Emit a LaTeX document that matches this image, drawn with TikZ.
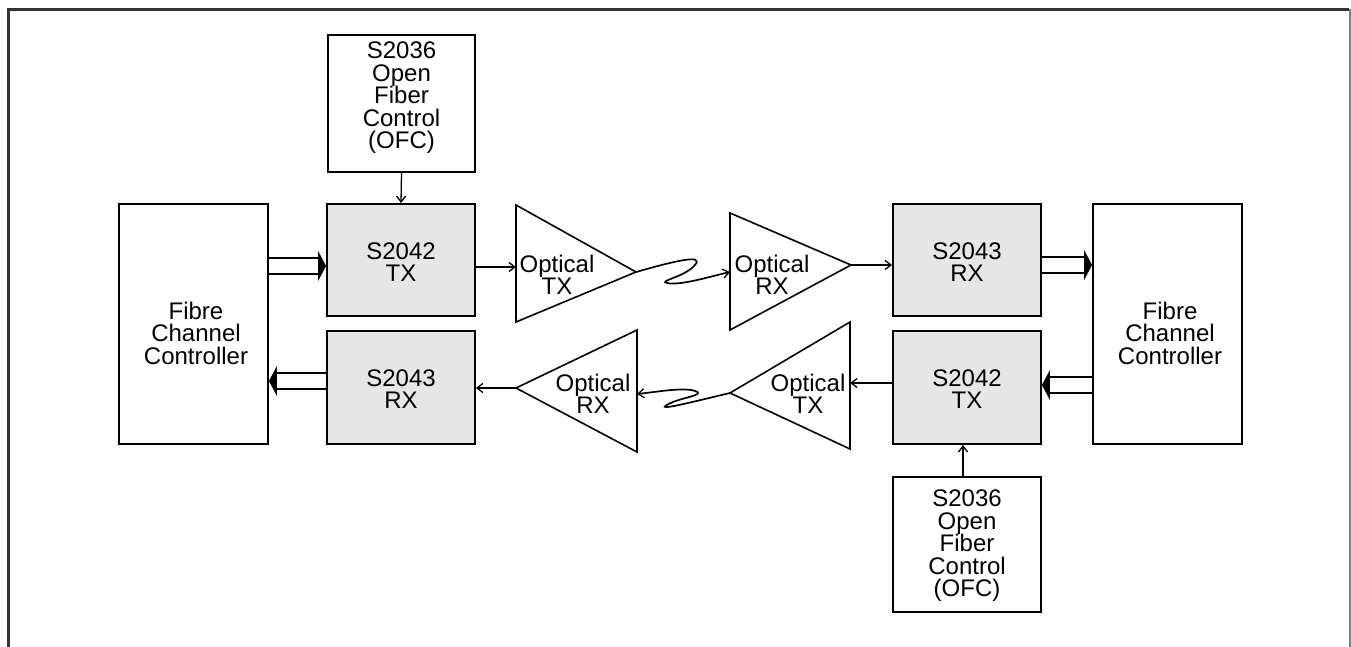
\documentclass[tikz,border=0pt]{standalone}
\usepackage{fontspec}
\setmainfont{Liberation Sans}
\usetikzlibrary{arrows.meta,calc}
\definecolor{chipgray}{HTML}{E6E6E6}
\definecolor{framec}{HTML}{333333}
\begin{document}
\begin{tikzpicture}[x=1pt,y=-1pt,
  lbl/.style={font=\fontsize{24}{22.5}\selectfont, align=center, inner sep=0pt},
  box/.style={draw, line width=1.8pt, inner sep=0pt},
  chip/.style={box, fill=chipgray},
  conn/.style={line width=1.3pt, -{Straight Barb[length=6pt,width=9pt,line width=1.3pt]}},
  fibre/.style={line width=1.7pt, -{Straight Barb[length=6pt,width=9pt,line width=1.3pt]}},
  tri/.style={line width=1.6pt, line join=miter},
  dl/.style={line width=1.8pt},
  dh/.style={fill=black}]
\useasboundingbox (0,0) rectangle (1351,647);
% frame
\draw[framec, line width=3pt] (8,647) -- (8,10) -- (1349,10);
\draw[gray, line width=1.5pt] (1350,9) -- (1350,647);
% boxes
\node[box, minimum width=147pt, minimum height=137pt] (ofc1) at (401.5,103.5) {};
\node[lbl] (ofc1t) at (401.5,98) {S2036\\Open\\Fiber\\Control\\(OFC)};
\node[box, minimum width=149pt, minimum height=240pt] (fcc1) at (193.5,324) {};
\node[lbl] (fcc1t) at (196,333) {Fibre\\Channel\\Controller};
\node[chip, minimum width=148pt, minimum height=112pt] (tx1) at (401,260) {};
\node[lbl] (tx1t) at (401,262) {S2042\\TX};
\node[chip, minimum width=148pt, minimum height=113pt] (rx1) at (401,387.5) {};
\node[lbl] (rx1t) at (401,389) {S2043\\RX};
\node[chip, minimum width=148pt, minimum height=112pt] (rx2) at (967,260) {};
\node[lbl] (rx2t) at (967,262) {S2043\\RX};
\node[chip, minimum width=148pt, minimum height=113pt] (tx2) at (967,387.5) {};
\node[lbl] (tx2t) at (967,389) {S2042\\TX};
\node[box, minimum width=149pt, minimum height=240pt] (fcc2) at (1167.5,324) {};
\node[lbl] (fcc2t) at (1170,333) {Fibre\\Channel\\Controller};
\node[box, minimum width=148pt, minimum height=135pt] (ofc2) at (967,544.5) {};
\node[lbl] (ofc2t) at (967,546) {S2036\\Open\\Fiber\\Control\\(OFC)};
% triangles
\coordinate (t1a) at (516,205); \coordinate (t1b) at (516,322); \coordinate (t1o) at (636,272);
\coordinate (t1in) at (516,267);
\draw[tri] (t1a) -- (t1o) -- (t1b) -- cycle;
\node[lbl] (t1l) at (557,275) {Optical\\TX};
\coordinate (t2a) at (730,213); \coordinate (t2b) at (730,330); \coordinate (t2o) at (851,265);
\coordinate (t2in) at (730,272);
\draw[tri] (t2a) -- (t2o) -- (t2b) -- cycle;
\node[lbl] (t2l) at (772,275) {Optical\\RX};
\coordinate (t3a) at (850,322); \coordinate (t3b) at (850,449); \coordinate (t3o) at (730,393);
\coordinate (t3in) at (850,383);
\draw[tri] (t3a) -- (t3o) -- (t3b) -- cycle;
\node[lbl] (t3l) at (808,394) {Optical\\TX};
\coordinate (t4a) at (637,330); \coordinate (t4b) at (637,452); \coordinate (t4o) at (516,388);
\coordinate (t4in) at (637,394);
\draw[tri] (t4a) -- (t4o) -- (t4b) -- cycle;
\node[lbl] (t4l) at (593,394) {Optical\\RX};
% single connectors
\draw[conn] (ofc1.south) -- (tx1.north);
\draw[conn] (ofc2.north -| 963,0) -- (tx2.south -| 963,0);
\draw[conn] (tx1.east |- t1in) -- (t1in);
\draw[conn] (t2o) -- (rx2.west |- t2o);
\draw[conn] (tx2.west |- t3in) -- (t3in);
\draw[conn] (t4o) -- (rx1.east |- t4o);
% fibres
\draw[fibre] (t1o) .. controls (668,263) and (708,252) .. (694,266)
  .. controls (684,277) and (658,281) .. (667,283)
  .. controls (680,286) and (712,276) .. (t2in);
\draw[fibre] (t3o) .. controls (700,400) and (654,412) .. (667,405)
  .. controls (677,398) and (708,395) .. (695,391)
  .. controls (684,387) and (656,392) .. (t4in);
% double arrows
\coordinate (d1a) at (fcc1.east |- 0,266); \coordinate (d1b) at (tx1.west |- 0,266);
\draw[dl] ([yshift=8pt]d1a) -- ([shift={(-8pt,8pt)}]d1b);
\draw[dl] ([yshift=-8pt]d1a) -- ([shift={(-8pt,-8pt)}]d1b);
\fill[dh] ([shift={(-8pt,15pt)}]d1b) -- (d1b) -- ([shift={(-8pt,-15pt)}]d1b) -- cycle;
\coordinate (d2a) at (rx1.west |- 0,381); \coordinate (d2b) at (fcc1.east |- 0,381);
\draw[dl] ([yshift=8pt]d2a) -- ([shift={(8pt,8pt)}]d2b);
\draw[dl] ([yshift=-8pt]d2a) -- ([shift={(8pt,-8pt)}]d2b);
\fill[dh] ([shift={(8pt,15pt)}]d2b) -- (d2b) -- ([shift={(8pt,-15pt)}]d2b) -- cycle;
\coordinate (d3a) at (rx2.east |- 0,265); \coordinate (d3b) at (fcc2.west |- 0,265);
\draw[dl] ([yshift=8pt]d3a) -- ([shift={(-8pt,8pt)}]d3b);
\draw[dl] ([yshift=-8pt]d3a) -- ([shift={(-8pt,-8pt)}]d3b);
\fill[dh] ([shift={(-8pt,15pt)}]d3b) -- (d3b) -- ([shift={(-8pt,-15pt)}]d3b) -- cycle;
\coordinate (d4a) at (fcc2.west |- 0,385); \coordinate (d4b) at (tx2.east |- 0,385);
\draw[dl] ([yshift=8pt]d4a) -- ([shift={(8pt,8pt)}]d4b);
\draw[dl] ([yshift=-8pt]d4a) -- ([shift={(8pt,-8pt)}]d4b);
\fill[dh] ([shift={(8pt,15pt)}]d4b) -- (d4b) -- ([shift={(8pt,-15pt)}]d4b) -- cycle;
\end{tikzpicture}
\end{document}
